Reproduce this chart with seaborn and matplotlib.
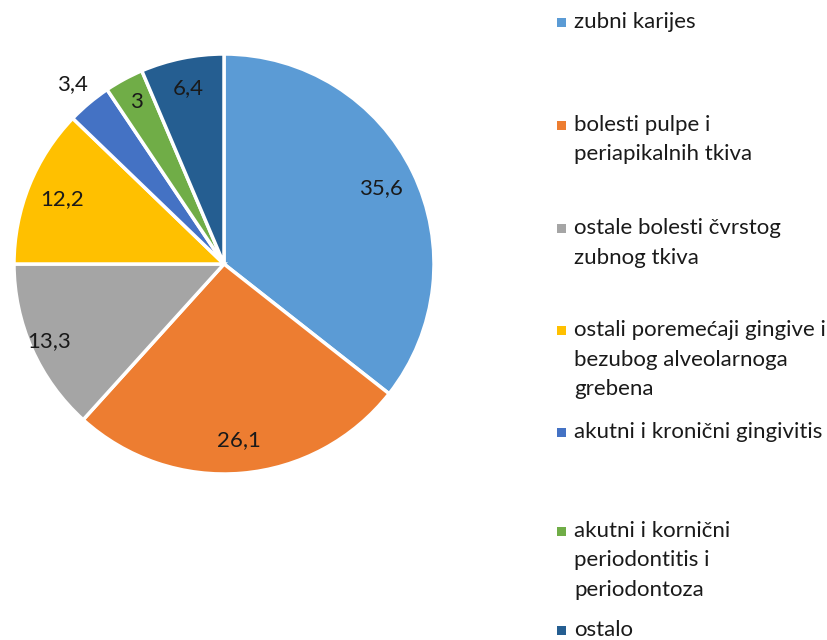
import matplotlib
matplotlib.use("Agg")
import numpy as np
import matplotlib.pyplot as plt
import seaborn as sns
from matplotlib.patches import Rectangle

categories = [
    "zubni karijes",
    "bolesti pulpe i\nperiapikalnih tkiva",
    "ostale bolesti čvrstog\nzubnog tkiva",
    "ostali poremećaji gingive i\nbezubog alveolarnoga\ngrebena",
    "akutni i kronični gingivitis",
    "akutni i kornični\nperiodontitis i\nperiodontoza",
    "ostalo",
]
values = [35.6, 26.1, 13.3, 12.2, 3.4, 3.0, 6.4]
value_labels = ["35,6", "26,1", "13,3", "12,2", "3,4", "3", "6,4"]
colors = ["#5B9BD5", "#ED7D31", "#A5A5A5", "#FFC000", "#4472C4", "#70AD47", "#255E91"]

# radial position of each data label (fraction of radius), as Excel placed them
label_r = [0.83, 0.84, 0.91, 0.83, 1.12, 0.88, 0.855]

sns.set_theme(style="white")
plt.rcParams["font.family"] = ["Lato", "DejaVu Sans"]

W, H = 828, 640
fig = plt.figure(figsize=(W / 100, H / 100), dpi=100)

cx, cy, r = 224, 264, 210
ax = fig.add_axes([(cx - r) / W, (H - cy - r) / H, 2 * r / W, 2 * r / H])
wedges, _ = ax.pie(values, colors=sns.color_palette(colors), startangle=90,
                   counterclock=False, radius=1,
                   wedgeprops=dict(edgecolor="white", linewidth=2.5))
ax.set_xlim(-1, 1)
ax.set_ylim(-1, 1)
ax.set_aspect("equal")
ax.axis("off")

for w, txt, rr in zip(wedges, value_labels, label_r):
    ang = np.deg2rad((w.theta1 + w.theta2) / 2)
    ax.text(rr * np.cos(ang), rr * np.sin(ang), txt, ha="center", va="center",
            fontsize=16, color="#1a1a1a")

# legend drawn by hand (Excel spreads the entries over fixed slots)
first_y = [22, 125, 228, 330, 432, 531, 630]
line_h = 29.5
for lab, col, y0 in zip(categories, colors, first_y):
    fig.patches.append(Rectangle(((557) / W, (H - y0 - 4.5) / H), 9 / W, 9 / H,
                                 transform=fig.transFigure, facecolor=col,
                                 edgecolor="none"))
    for i, line in enumerate(lab.split("\n")):
        fig.text(574 / W, (H - y0 - i * line_h) / H, line, ha="left",
                 va="center", fontsize=16, color="#1a1a1a")

fig.savefig("out.png", dpi=100)
